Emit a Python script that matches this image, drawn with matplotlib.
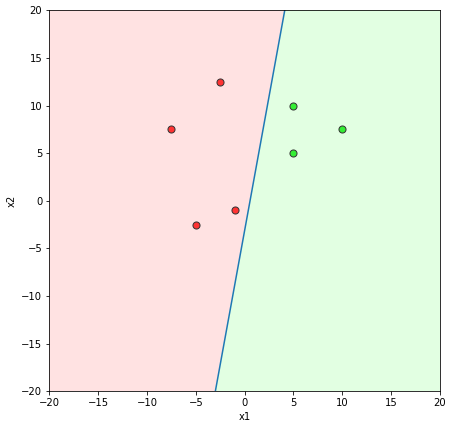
"""Perceptron-style decision boundary for two small point classes."""
import matplotlib
matplotlib.use("Agg")
import matplotlib.pyplot as plt
import numpy as np
from matplotlib.colors import ListedColormap

red_x1 = [-2.5, -7.5, -5.0, -1.0]
red_x2 = [12.5, 7.5, -2.5, -1.0]
green_x1 = [5.0, 5.0, 10.0]
green_x2 = [10.0, 5.0, 7.5]

# boundary: x2 = slope * x1 + intercept
slope = 5.63
intercept = -3.11

lim = (-20, 20)

fig = plt.figure(figsize=(453 / 72, 429 / 72), dpi=72)
ax = fig.add_axes([0.1088, 0.0879, 0.8625, 0.888])

xx, yy = np.meshgrid(np.linspace(*lim, 600), np.linspace(*lim, 600))
zz = (slope * xx + intercept - yy) > 0
ax.contourf(xx, yy, zz.astype(float), levels=[-0.5, 0.5, 1.5],
            cmap=ListedColormap(["#FFE2E2", "#E2FFE2"]))

line_x = np.array(lim, dtype=float)
ax.plot((line_x - intercept) / slope, line_x, color="#1f77b4", linewidth=1.5)

ax.scatter(red_x1, red_x2, s=50, c="#FF3333", edgecolors="#333333", linewidths=1, zorder=3)
ax.scatter(green_x1, green_x2, s=50, c="#33EE33", edgecolors="#333333", linewidths=1, zorder=3)

ax.set_xlim(*lim)
ax.set_ylim(*lim)
ax.set_xlabel("x1")
ax.set_ylabel("x2")

fig.savefig("out.png", dpi=72)
